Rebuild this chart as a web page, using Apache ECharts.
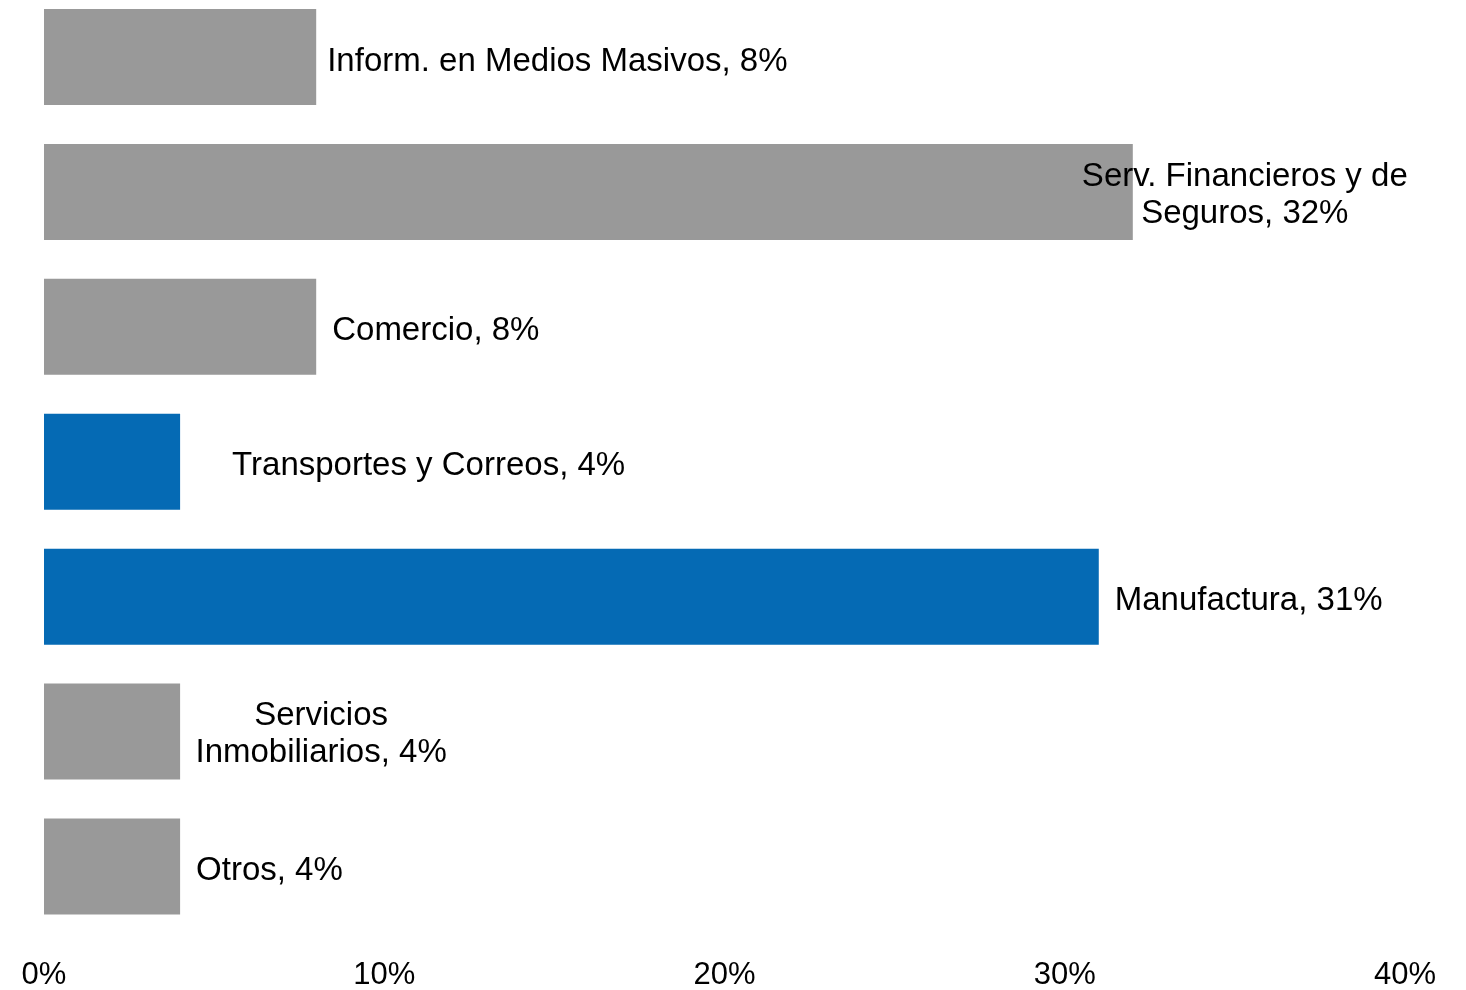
<!DOCTYPE html>
<html>
<head>
<meta charset="utf-8">
<script src="https://cdn.jsdelivr.net/npm/echarts@6/dist/echarts.min.js"></script>
<style>
  html, body { margin: 0; padding: 0; background: #ffffff; }
  #chart { width: 1466px; height: 990px; }
</style>
</head>
<body>
<div id="chart"></div>
<script>
// Participación por sector
const sectores = [
  'Inform. en Medios Masivos',
  'Serv. Financieros y de Seguros',
  'Comercio',
  'Transportes y Correos',
  'Manufactura',
  'Servicios Inmobiliarios',
  'Otros'
];
const participacion = [8, 32, 8, 4, 31, 4, 4];
const etiquetas = [
  'Inform. en Medios Masivos',
  'Serv. Financieros y de\nSeguros',
  'Comercio',
  'Transportes y Correos',
  'Manufactura',
  'Servicios\nInmobiliarios',
  'Otros'
];
const destacados = ['Transportes y Correos', 'Manufactura'];
const ticksX = [0, 10, 20, 30, 40];

const GRIS = '#999999';
const AZUL = '#056AB4';
const FUENTE = '"Liberation Sans", Arial, sans-serif';

// Label placement per bar (distance from bar end, alignment)
const colocacion = [
  { distance: 11, align: 'left', offset: [0, 5] },
  { distance: 0, align: 'center', offset: [112, 4] },
  { distance: 16, align: 'left', offset: [0, 4] },
  { distance: 51, align: 'left', offset: [1, 4] },
  { distance: 16, align: 'left', offset: [0, 4] },
  { distance: 0, align: 'center', offset: [141, 3] },
  { distance: 16, align: 'left', offset: [0, 4] }
];

const datos = sectores.map((s, i) => ({
  name: s,
  value: participacion[i],
  itemStyle: { color: destacados.includes(s) ? AZUL : GRIS },
  label: {
    show: true,
    position: 'right',
    distance: colocacion[i].distance,
    align: colocacion[i].align,
    offset: colocacion[i].offset,
    formatter: etiquetas[i] + ', ' + participacion[i] + '%'
  }
}));

const chart = echarts.init(document.getElementById('chart'), null, { renderer: 'canvas' });
chart.setOption({
  animation: false,
  backgroundColor: '#ffffff',
  grid: {
    left: 44,
    right: 61,
    top: -10.5,
    bottom: 56,
    containLabel: false,
    outerBoundsMode: 'none'
  },
  xAxis: {
    type: 'value',
    min: ticksX[0],
    max: ticksX[ticksX.length - 1],
    interval: ticksX[1] - ticksX[0],
    axisLine: { show: false },
    axisTick: { show: false },
    splitLine: { show: false },
    axisLabel: {
      margin: 26,
      color: '#000000',
      fontFamily: FUENTE,
      fontSize: 31,
      formatter: '{value}%'
    }
  },
  yAxis: {
    type: 'category',
    inverse: true,
    data: sectores,
    show: false
  },
  series: [{
    type: 'bar',
    data: datos,
    barWidth: 96,
    label: {
      color: '#000000',
      fontFamily: FUENTE,
      fontSize: 33,
      lineHeight: 37,
      verticalAlign: 'middle'
    }
  }]
});
</script>
</body>
</html>
